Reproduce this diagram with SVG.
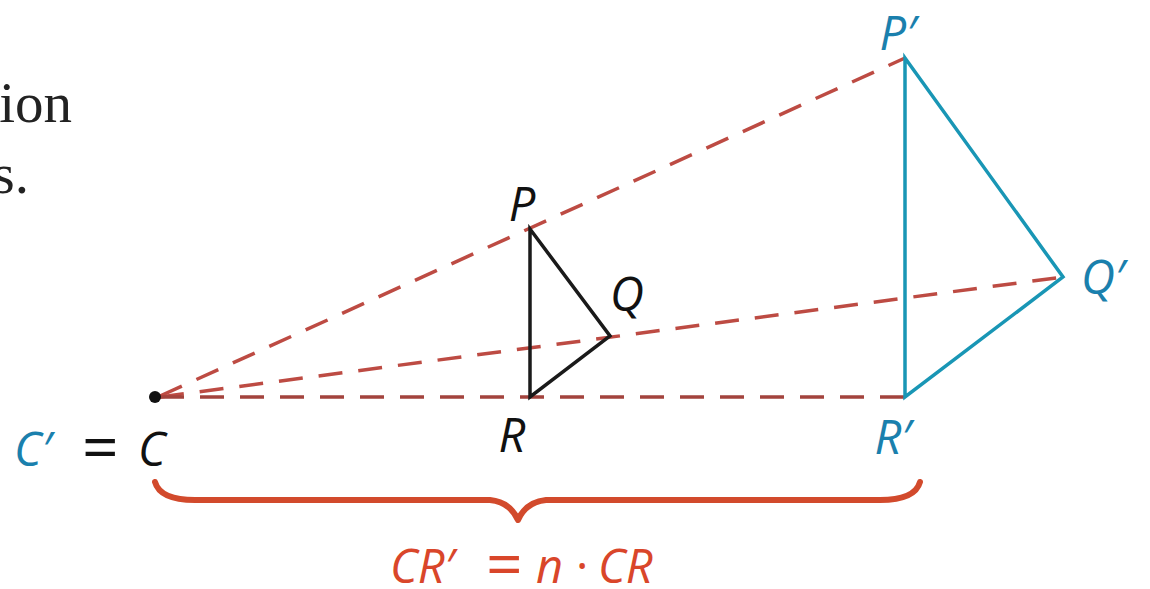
<svg xmlns="http://www.w3.org/2000/svg" width="1150" height="589" viewBox="0 0 1150 589">
<style>
.ray{fill:none;stroke:#bd4b43;stroke-width:3.5;stroke-dasharray:24 16}
.lbl{font-family:"Open Sans","Noto Sans",sans-serif;font-style:italic;font-size:47px}
.up{font-style:normal}
.eq{font-style:normal;font-size:64px}
.blue{fill:#1a80ad}
.blk{fill:#111}
.red{fill:#d9462a}
.serif{font-family:"Liberation Serif",serif;font-size:57px;fill:#222}
</style>
<rect width="1150" height="589" fill="#fff"/>
<g id="bodytext">
<text class="serif" x="72" y="122" text-anchor="end">ion</text>
<text class="serif" x="29" y="193" text-anchor="end">s.</text>
</g>
<g id="connectors">
<line class="ray" x1="160" y1="396" x2="905" y2="58"/>
<line class="ray" x1="160" y1="397" x2="1063" y2="277"/>
<line class="ray" x1="160" y1="397" x2="905" y2="397" style="stroke:#a3433d"/>
</g>
<g id="triangle-PQR">
<polygon points="530,229 610,336 530,397" fill="none" stroke="#1a1a1a" stroke-width="3.5"/>
</g>
<g id="triangle-PQR-prime">
<polygon points="905,58 1063,277 905,397" fill="none" stroke="#1996b5" stroke-width="3.5"/>
</g>
<g id="center-C">
<circle cx="155" cy="397" r="6" fill="#111"/>
</g>
<g id="labels">
<text class="lbl blk" x="522" y="221" text-anchor="middle">P</text>
<text class="lbl blk" x="627" y="311" text-anchor="middle">Q</text>
<text class="lbl blk" x="512" y="452" text-anchor="middle">R</text>
<text class="lbl blue" x="898" y="50" text-anchor="middle">P′</text>
<text class="lbl blue" x="1103" y="294" text-anchor="middle">Q′</text>
<text class="lbl blue" x="893" y="454" text-anchor="middle">R′</text>
<text class="lbl blue" x="14" y="466">C′</text>
<text class="lbl blk eq" x="82" y="470">=</text>
<text class="lbl blk" x="138" y="466">C</text>
</g>
<g id="brace">
<path d="M155,482 Q160,500 195,500 L490,500 Q510,502 518,520 Q526,502 546,500 L880,500 Q915,500 920,482" fill="none" stroke="#d24a2c" stroke-width="6" stroke-linejoin="round" stroke-linecap="round"/>
<text class="lbl red" x="390" y="583" font-size="50">CR′</text>
<text class="lbl red eq" x="486" y="587">=</text>
<text class="lbl red" x="536" y="583">n</text>
<text class="lbl red up" x="576" y="583">·</text>
<text class="lbl red" x="598" y="583">CR</text>
</g>
</svg>
